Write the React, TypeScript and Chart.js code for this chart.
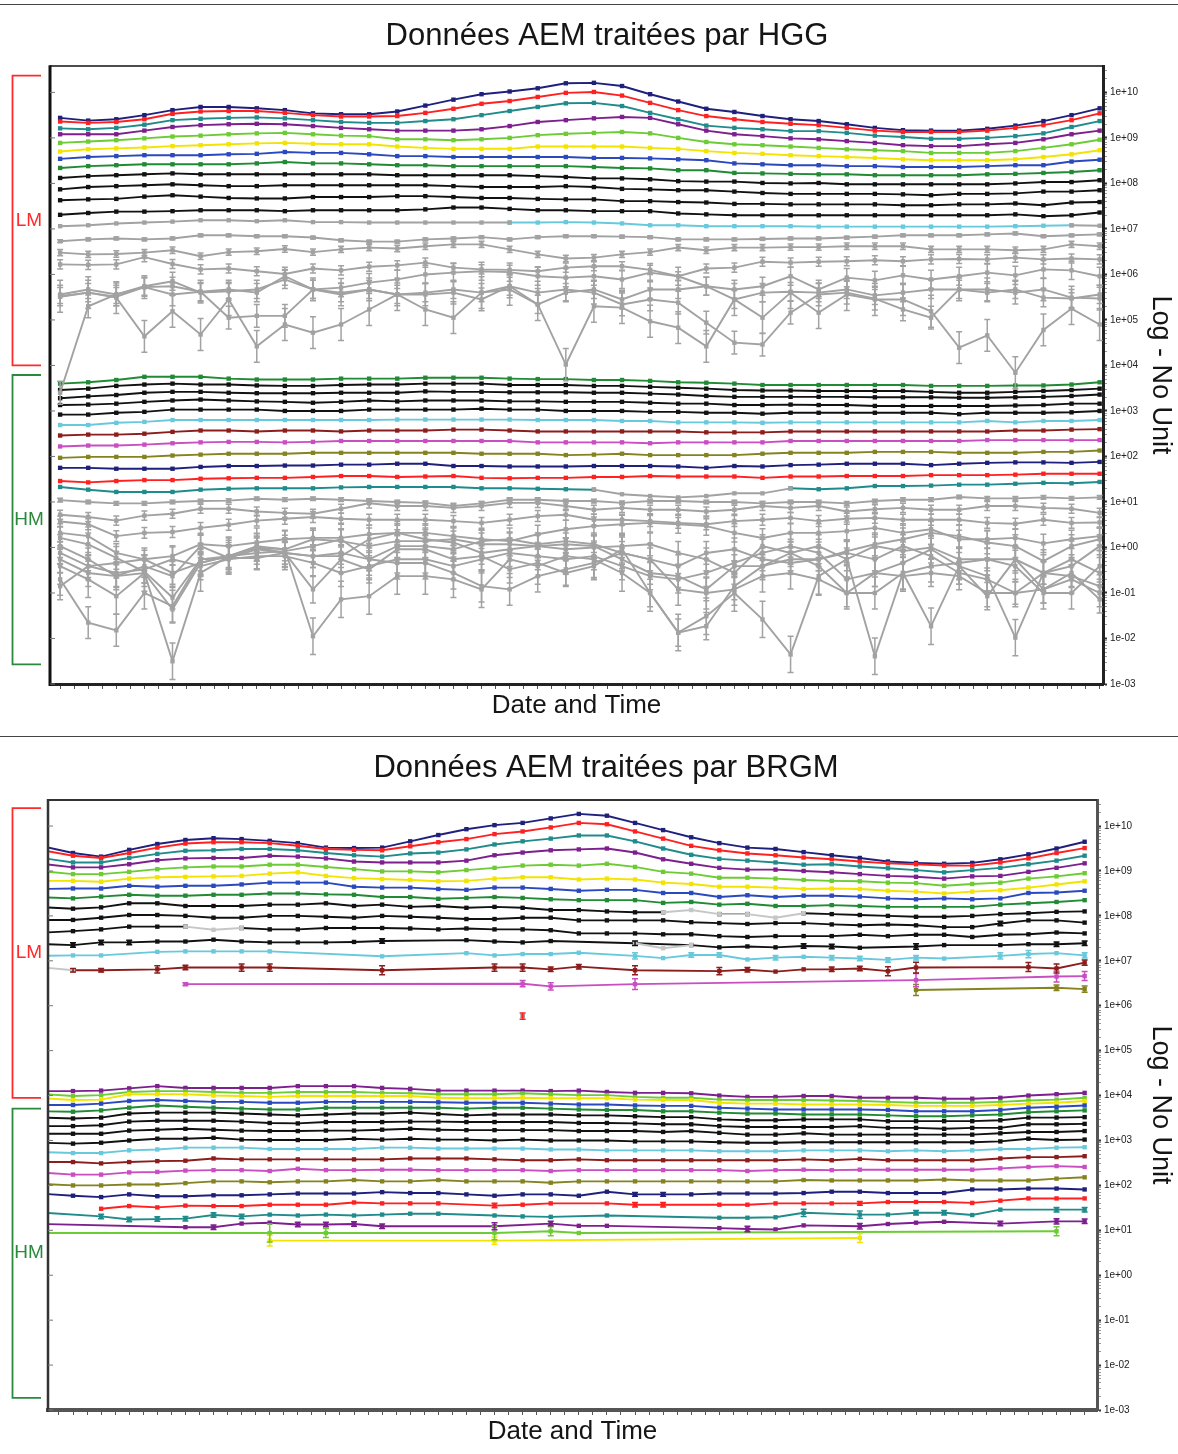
import React, { useEffect, useRef } from "react";
import { Chart, registerables } from "chart.js";
Chart.register(...registerables);

// ================= DATA (values are log10 of the plotted quantity) =================
// Y axis tick labels (decades) and minor-tick mantissas
const yDecades = [-3, -2, -1, 0, 1, 2, 3, 4, 5, 6, 7, 8, 9, 10];
const yMantissas = [1, 2, 3, 4, 5, 6, 7, 8, 9];

// ---------- Top chart: "HGG", samples 0..37 ----------
const hggLmNavy = [9.44,9.38,9.41,9.50,9.61,9.68,9.68,9.65,9.61,9.54,9.52,9.52,9.58,9.71,9.84,9.96,10.02,10.09,10.20,10.21,10.14,9.96,9.80,9.64,9.57,9.48,9.41,9.37,9.30,9.22,9.17,9.16,9.16,9.20,9.27,9.37,9.50,9.65];
const hggLmRed = [9.36,9.33,9.35,9.41,9.53,9.58,9.59,9.59,9.55,9.50,9.47,9.47,9.48,9.55,9.64,9.75,9.81,9.90,9.99,10.01,9.93,9.77,9.61,9.48,9.41,9.35,9.31,9.28,9.22,9.16,9.13,9.13,9.13,9.16,9.22,9.28,9.39,9.54];
const hggLmTeal = [9.21,9.19,9.22,9.29,9.39,9.42,9.44,9.45,9.43,9.39,9.35,9.33,9.33,9.37,9.41,9.50,9.59,9.68,9.76,9.77,9.70,9.55,9.41,9.27,9.22,9.19,9.15,9.15,9.11,9.05,9.02,8.98,8.98,9.00,9.04,9.10,9.24,9.37];
const hggLmPurple = [9.08,9.08,9.08,9.16,9.24,9.28,9.30,9.31,9.30,9.26,9.22,9.19,9.16,9.16,9.16,9.19,9.26,9.35,9.39,9.43,9.46,9.44,9.30,9.16,9.08,9.04,8.99,8.97,8.93,8.89,8.84,8.82,8.82,8.86,8.89,8.97,9.08,9.16];
const hggLmLime = [8.89,8.92,8.95,8.99,9.03,9.05,9.08,9.10,9.11,9.08,9.05,9.04,8.97,8.97,8.95,8.97,9.00,9.06,9.09,9.11,9.13,9.10,9.00,8.91,8.86,8.84,8.81,8.78,8.75,8.73,8.71,8.67,8.67,8.67,8.71,8.78,8.86,8.96];
const hggLmYellow = [8.70,8.75,8.77,8.79,8.82,8.84,8.86,8.88,8.89,8.87,8.86,8.86,8.81,8.78,8.76,8.76,8.76,8.81,8.81,8.81,8.81,8.78,8.76,8.71,8.67,8.65,8.62,8.60,8.58,8.56,8.53,8.51,8.51,8.51,8.53,8.58,8.64,8.73];
const hggLmBlue = [8.54,8.58,8.60,8.62,8.62,8.62,8.64,8.65,8.69,8.67,8.67,8.64,8.60,8.60,8.58,8.58,8.58,8.58,8.58,8.56,8.56,8.55,8.53,8.51,8.44,8.42,8.40,8.40,8.38,8.38,8.36,8.36,8.36,8.38,8.40,8.40,8.48,8.52];
const hggLmGreen = [8.34,8.38,8.40,8.42,8.42,8.42,8.42,8.44,8.47,8.44,8.44,8.42,8.40,8.40,8.38,8.38,8.38,8.38,8.38,8.36,8.34,8.33,8.29,8.29,8.23,8.22,8.21,8.20,8.20,8.18,8.18,8.18,8.18,8.20,8.21,8.23,8.25,8.29];
const hggLmBlack1 = [8.12,8.16,8.18,8.20,8.22,8.20,8.20,8.20,8.20,8.20,8.20,8.20,8.18,8.18,8.18,8.18,8.18,8.16,8.14,8.11,8.11,8.09,8.05,8.04,8.04,8.01,8.00,8.01,7.98,7.98,7.98,7.98,7.98,7.98,8.00,8.03,8.03,8.07];
const hggLmBlack2 = [7.87,7.92,7.94,7.96,7.98,7.96,7.94,7.94,7.96,7.96,7.96,7.96,7.96,7.96,7.94,7.92,7.92,7.92,7.94,7.92,7.88,7.87,7.85,7.85,7.82,7.79,7.77,7.77,7.77,7.77,7.76,7.74,7.77,7.77,7.78,7.82,7.82,7.85];
const hggLmBlack3 = [7.63,7.65,7.66,7.71,7.74,7.71,7.68,7.67,7.67,7.70,7.70,7.70,7.72,7.72,7.70,7.68,7.68,7.66,7.65,7.65,7.61,7.61,7.59,7.58,7.55,7.55,7.54,7.54,7.54,7.54,7.52,7.52,7.54,7.54,7.56,7.52,7.58,7.59];
const hggLmBlack4 = [7.31,7.35,7.38,7.38,7.39,7.41,7.41,7.41,7.39,7.41,7.41,7.41,7.41,7.43,7.47,7.47,7.44,7.41,7.41,7.39,7.39,7.39,7.34,7.32,7.30,7.30,7.30,7.30,7.30,7.30,7.30,7.30,7.30,7.30,7.32,7.28,7.30,7.36];
const hggLmCyan = [null,null,null,null,null,null,null,null,null,null,null,null,null,null,null,null,7.14,7.14,7.15,7.14,7.12,7.08,7.08,7.06,7.06,7.06,7.06,7.05,7.05,7.05,7.05,7.05,7.05,7.05,7.06,7.07,7.08,null];
const hggLmGray1 = [7.06,7.08,7.12,7.14,7.16,7.19,7.19,7.17,7.19,7.15,7.15,7.14,7.14,7.14,7.14,7.14,7.14,null,null,null,null,null,null,null,null,null,null,null,null,null,null,null,null,null,null,null,7.08,7.07];
const hggLmGray2 = [6.73,6.77,6.79,6.77,6.79,6.86,6.86,6.84,6.84,6.81,6.75,6.72,6.72,6.77,6.79,6.82,6.77,6.82,6.84,6.84,6.83,6.82,6.77,6.77,6.77,6.78,6.79,6.79,6.81,6.83,6.86,6.86,6.86,6.88,6.90,6.84,6.86,6.88];
const hggLmGray3 = [6.48,6.44,6.45,6.48,6.53,6.40,6.49,6.51,6.56,6.49,6.55,6.59,6.57,6.62,6.66,6.66,6.55,6.44,6.35,6.37,6.44,6.49,6.59,6.53,6.59,6.59,6.60,6.60,6.62,6.62,6.62,6.55,6.55,6.55,6.53,6.55,6.66,6.62];
const hggLmGray4 = [6.22,6.21,6.22,6.38,6.23,6.11,6.13,6.07,6.01,6.13,6.09,6.17,6.20,6.26,6.15,6.11,6.10,6.07,6.15,6.18,6.18,6.10,5.96,6.13,6.15,6.28,6.26,6.28,6.29,6.31,6.29,6.33,6.34,6.33,6.37,6.33,6.35,6.33];
const hggLmGray5 = [5.56,5.67,5.56,5.74,5.85,5.60,5.63,5.67,5.89,5.67,5.71,5.82,5.89,6.00,6.04,6.07,6.05,5.96,5.93,5.96,5.89,6.04,5.96,5.74,5.67,5.74,5.96,5.67,5.93,5.87,5.98,5.89,5.96,6.04,5.98,6.11,6.09,5.96];
const hggLmGray6 = [5.51,5.60,5.51,5.72,5.74,5.62,5.67,5.60,5.96,5.67,5.60,5.67,5.56,5.60,5.67,5.60,5.74,5.34,5.60,5.67,5.45,5.67,5.67,5.74,5.45,5.60,5.62,5.60,5.67,5.54,5.60,5.67,5.67,5.60,5.67,5.49,5.47,5.56];
const hggLmGray7 = [5.52,5.60,5.49,4.64,5.19,4.68,5.45,4.42,4.90,4.72,4.90,5.23,5.56,5.23,5.05,5.60,5.67,5.34,4.02,5.30,5.27,4.97,4.83,4.42,5.45,5.05,5.60,5.16,5.56,5.45,5.45,5.19,4.39,4.66,3.84,4.78,5.25,4.90];
const hggLmGray8 = [3.40,5.30,5.56,5.72,5.56,5.62,5.05,5.09,5.09,5.67,5.56,5.67,5.56,5.56,5.60,5.45,5.74,5.60,5.67,5.60,5.34,5.45,5.38,4.94,4.50,4.46,5.16,5.56,5.60,5.47,5.23,5.05,5.67,5.67,5.60,5.67,5.49,5.47];

const hggHmGreen = [3.60,3.63,3.68,3.75,3.75,3.75,3.71,3.69,3.69,3.69,3.71,3.71,3.71,3.73,3.73,3.73,3.71,3.70,3.70,3.68,3.68,3.66,3.63,3.62,3.60,3.57,3.57,3.57,3.57,3.57,3.57,3.55,3.55,3.55,3.56,3.56,3.58,3.63];
const hggHmBlackA = [3.46,3.49,3.55,3.58,3.60,3.58,3.58,3.56,3.55,3.55,3.57,3.58,3.58,3.60,3.60,3.60,3.57,3.57,3.57,3.55,3.55,3.53,3.51,3.49,3.46,3.45,3.45,3.44,3.44,3.44,3.44,3.42,3.40,3.40,3.42,3.44,3.46,3.49];
const hggHmBlackB = [3.28,3.32,3.35,3.40,3.42,3.42,3.40,3.39,3.39,3.39,3.40,3.40,3.40,3.43,3.42,3.42,3.41,3.41,3.41,3.40,3.40,3.38,3.36,3.33,3.31,3.31,3.31,3.31,3.31,3.30,3.30,3.30,3.29,3.29,3.30,3.31,3.33,3.36];
const hggHmBlackC = [3.13,3.14,3.16,3.20,3.23,3.25,3.23,3.21,3.20,3.18,3.20,3.23,3.21,3.23,3.23,3.23,3.21,3.21,3.20,3.20,3.20,3.18,3.16,3.16,3.13,3.13,3.14,3.13,3.13,3.11,3.11,3.11,3.11,3.11,3.12,3.13,3.16,3.16];
const hggHmBlackD = [2.92,2.92,2.96,2.98,3.03,3.03,3.03,3.03,3.00,3.00,3.00,3.03,3.03,3.03,3.03,3.05,3.03,3.03,3.00,3.00,3.00,2.98,2.98,2.96,2.96,2.94,2.96,2.96,2.96,2.96,2.96,2.96,2.93,2.96,2.96,2.96,2.97,3.00];
const hggHmCyan = [2.69,2.69,2.74,2.76,2.80,2.80,2.80,2.80,2.80,2.80,2.80,2.80,2.81,2.81,2.81,2.81,2.81,2.80,2.80,2.80,2.78,2.78,2.75,2.75,2.75,2.74,2.75,2.75,2.75,2.75,2.75,2.75,2.75,2.78,2.75,2.78,2.78,2.80];
const hggHmBrown = [2.46,2.48,2.48,2.50,2.54,2.57,2.57,2.55,2.57,2.57,2.55,2.57,2.57,2.57,2.59,2.59,2.57,2.55,2.55,2.55,2.55,2.55,2.55,2.53,2.53,2.53,2.55,2.55,2.55,2.55,2.55,2.55,2.55,2.55,2.57,2.57,2.59,2.60];
const hggHmMagenta = [2.22,2.24,2.24,2.26,2.29,2.31,2.32,2.32,2.31,2.32,2.34,2.34,2.34,2.34,2.34,2.34,2.34,2.31,2.31,2.31,2.31,2.29,2.31,2.31,2.31,2.31,2.34,2.34,2.34,2.34,2.34,2.34,2.34,2.36,2.36,2.36,2.36,2.36];
const hggHmOlive = [1.97,1.99,1.99,1.99,2.02,2.04,2.06,2.06,2.06,2.08,2.08,2.08,2.08,2.08,2.08,2.06,2.06,2.06,2.03,2.04,2.06,2.03,2.03,2.03,2.03,2.06,2.08,2.08,2.08,2.10,2.10,2.10,2.08,2.08,2.08,2.10,2.10,2.13];
const hggHmNavy = [1.75,1.75,1.73,1.73,1.73,1.77,1.79,1.79,1.80,1.80,1.82,1.82,1.84,1.84,1.79,1.79,1.78,1.78,1.78,1.79,1.79,1.79,1.78,1.75,1.79,1.78,1.81,1.82,1.84,1.84,1.84,1.81,1.84,1.86,1.87,1.87,1.86,1.88];
const hggHmRed = [1.46,1.43,1.46,1.48,1.48,1.51,1.52,1.53,1.53,1.55,1.57,1.57,1.55,1.56,1.57,1.53,1.52,1.53,1.53,1.55,1.55,1.57,1.56,1.56,1.56,1.53,1.56,1.56,1.57,1.57,1.57,1.59,1.59,1.59,1.60,1.62,1.62,1.62];
const hggHmTeal = [1.33,1.27,1.22,1.22,1.22,1.27,1.29,1.30,1.30,1.30,1.32,1.33,1.33,1.33,1.33,1.30,1.30,1.29,1.28,1.27,null,null,null,null,null,null,1.30,1.28,1.30,1.35,1.35,1.36,1.38,1.38,1.40,1.42,1.41,1.44];
const hggHmTealGap: [number, number][] = [[19,1.27],[20,1.17],[21,1.13],[22,1.10],[23,1.13],[24,1.19],[25,1.19],[26,1.30]];
const hggHmGray1 = [1.04,1.00,0.97,0.97,1.00,1.02,1.03,1.07,1.05,1.07,1.05,1.02,1.00,0.98,0.91,0.97,1.05,1.05,1.02,1.02,0.98,1.02,1.02,1.00,1.00,0.97,1.00,1.00,0.97,1.02,1.05,1.05,1.11,1.08,1.08,1.10,1.08,1.10];
const hggHmGray2 = [0.72,0.67,0.59,0.70,0.74,0.85,0.85,0.79,0.76,0.74,0.85,0.97,0.91,0.91,0.87,0.91,0.98,0.98,0.91,0.83,0.87,0.83,0.83,0.79,0.83,0.91,0.87,0.91,0.79,0.84,0.87,0.83,0.83,0.91,0.91,0.87,0.85,0.76];
const hggHmGray3 = [0.57,0.51,0.25,0.32,0.34,0.43,0.50,0.59,0.63,0.67,0.63,0.61,0.61,0.61,0.58,0.54,0.61,0.69,0.72,0.61,0.61,0.58,0.54,0.51,0.58,0.61,0.65,0.58,0.63,0.65,0.61,0.61,0.61,0.54,0.52,0.61,0.54,0.55];
const hggHmGray4 = [0.32,0.25,-0.12,-0.26,-0.19,0.07,0.03,0.11,0.18,0.21,0.21,0.29,0.32,0.32,0.25,0.18,0.14,0.29,0.40,0.47,0.51,0.54,0.51,0.47,0.32,0.21,0.32,0.32,0.36,0.43,0.32,0.40,0.18,0.18,0.21,0.09,0.18,0.25];
const hggHmGray5 = [0.21,0.07,-0.23,-0.53,-1.10,-0.26,-0.23,-0.04,-0.12,-0.19,-0.12,-0.26,0.03,0.03,-0.04,0.14,0.18,0.07,0.14,0.07,-0.12,-0.26,-0.41,-0.12,-0.04,-0.26,-0.34,-0.26,-0.08,0.07,0.18,0.32,0.25,0.11,0.03,-0.30,0.03,0.18];
const hggHmGray6 = [-0.12,-0.41,-0.34,-0.26,-0.56,-0.34,-0.19,0.00,-0.04,0.18,0.14,0.03,0.14,0.14,0.18,0.07,0.07,0.03,-0.04,0.00,0.03,0.07,-0.12,-0.26,-0.56,0.03,-0.12,0.03,-0.26,0.03,-0.08,0.00,-0.26,-0.26,-0.26,-0.56,-0.63,-0.85];
const hggHmGray7 = [-0.26,-0.56,-0.63,-0.56,-1.36,-0.34,-0.19,0.00,-0.12,-0.92,-0.26,-0.48,-0.04,-0.04,-0.26,-0.19,-0.48,-0.34,-0.56,-0.41,-0.04,-1.00,-1.87,-1.73,-0.85,-0.41,-0.12,-0.41,-1.00,-0.56,-0.34,-0.04,-0.41,-1.07,-0.26,-0.92,-0.70,-1.00];
const hggHmGray8 = [-0.41,-0.70,-1.07,-0.56,-2.50,-0.56,-0.19,0.03,-0.04,-1.95,-1.14,-1.07,-0.63,-0.63,-0.70,-0.92,-0.26,-0.41,-0.19,-0.26,-0.56,-1.00,-1.87,-1.51,-1.00,-1.58,-2.35,-0.63,-0.26,-2.39,-0.56,-1.73,-0.41,-0.63,-1.98,-0.56,-0.26,-0.56];
const hggHmGray9 = [-0.70,-1.65,-1.82,-1.00,-1.29,-0.26,-0.19,-0.12,-0.08,0.03,0.18,-0.26,-0.34,-0.34,-0.56,-0.85,-0.92,-0.63,-0.48,-0.34,-0.12,-0.26,-0.92,-1.00,-0.92,-0.63,-0.56,-0.70,-1.00,-1.00,-0.56,-0.41,-0.34,-0.26,-0.41,-1.00,-1.00,-0.41];
const hggHmGray10 = [0.03,-0.26,-0.63,-0.41,-0.63,0.03,-0.23,-0.23,-0.12,-0.19,-0.19,0.18,0.32,0.18,0.11,-0.12,-0.04,0.03,0.07,0.03,-0.26,-0.56,-0.63,-0.92,-0.41,-0.41,-0.26,-0.26,-0.12,-0.26,0.03,-0.19,-0.56,-0.70,-1.00,-0.56,-0.41,0.03];
const hggHmGray11 = [-0.85,-0.41,-0.56,-0.48,-0.26,-0.41,-0.26,-0.19,-0.19,-0.34,-0.56,-0.41,-0.26,-0.26,-0.41,-0.26,-0.12,-0.19,-0.26,-0.19,-0.41,-0.63,-0.70,-0.56,-0.34,-0.12,0.03,-0.12,-0.70,-0.56,-0.63,-0.56,-0.63,-1.00,-1.00,-0.92,-0.56,-1.14];

// ---------- Bottom chart: "BRGM", samples -1..36 (first = value at left edge) ----------
const brgmLmNavy = [9.54,9.40,9.32,9.47,9.60,9.69,9.73,9.71,9.67,9.62,9.52,9.51,9.52,9.66,9.80,9.93,10.02,10.07,10.17,10.27,10.23,10.07,9.91,9.75,9.62,9.52,9.49,9.42,9.35,9.29,9.21,9.18,9.16,9.18,9.26,9.37,9.50,9.65];
const brgmLmRed = [9.45,9.34,9.29,9.40,9.52,9.61,9.64,9.64,9.62,9.56,9.49,9.47,9.46,9.55,9.64,9.71,9.82,9.88,9.97,10.07,10.04,9.88,9.72,9.56,9.46,9.39,9.35,9.30,9.26,9.21,9.17,9.15,9.12,9.12,9.19,9.28,9.40,9.51];
const brgmLmTeal = [9.28,9.19,9.19,9.29,9.38,9.45,9.46,9.49,9.49,9.46,9.40,9.35,9.32,9.39,9.41,9.48,9.59,9.66,9.72,9.79,9.79,9.66,9.50,9.36,9.27,9.23,9.19,9.14,9.15,9.10,9.06,9.02,8.97,9.02,9.07,9.15,9.23,9.34];
const brgmLmPurple = [9.15,9.08,9.08,9.15,9.24,9.28,9.29,9.29,9.34,9.32,9.28,9.21,9.19,9.19,9.19,9.23,9.35,9.41,9.46,9.48,9.50,9.41,9.26,9.16,9.07,9.03,9.03,9.00,8.97,8.93,8.89,8.87,8.83,8.88,8.89,8.98,9.07,9.17];
const brgmLmLime = [8.99,8.93,8.93,8.98,9.04,9.08,9.10,9.10,9.14,9.14,9.09,9.04,8.99,8.99,8.97,9.02,9.07,9.12,9.14,9.12,9.16,9.09,8.98,8.94,8.85,8.85,8.83,8.80,8.78,8.77,8.74,8.73,8.67,8.71,8.74,8.83,8.88,8.95];
const brgmLmYellow = [8.78,8.78,8.76,8.83,8.86,8.87,8.88,8.89,8.94,8.97,8.89,8.84,8.82,8.80,8.77,8.78,8.83,8.86,8.86,8.81,8.83,8.81,8.74,8.71,8.65,8.65,8.63,8.60,8.61,8.60,8.56,8.54,8.50,8.54,8.57,8.63,8.70,8.77];
const brgmLmBlue = [8.60,8.61,8.61,8.67,8.65,8.67,8.67,8.70,8.74,8.74,8.74,8.65,8.63,8.63,8.60,8.58,8.63,8.63,8.60,8.56,8.58,8.58,8.51,8.51,8.42,8.46,8.42,8.45,8.45,8.43,8.39,8.37,8.39,8.37,8.39,8.51,8.52,8.56];
const brgmLmGreen = [8.41,8.39,8.43,8.47,8.45,8.45,8.47,8.47,8.50,8.50,8.48,8.47,8.42,8.42,8.38,8.40,8.42,8.40,8.37,8.35,8.35,8.35,8.29,8.31,8.25,8.27,8.22,8.22,8.24,8.22,8.20,8.20,8.20,8.20,8.25,8.28,8.31,8.35];
const brgmLmBlack1 = [8.19,8.16,8.19,8.28,8.28,8.22,8.22,8.22,8.25,8.25,8.28,8.22,8.25,8.20,8.22,8.18,8.20,8.18,8.13,8.13,8.10,8.08,8.08,null,8.04,8.04,null,8.06,8.04,8.02,8.00,7.98,7.98,8.00,8.04,8.06,8.09,8.10];
const brgmLmBlack2 = [7.91,7.91,7.96,8.02,8.02,8.00,7.96,7.96,8.00,8.00,7.98,7.96,8.00,7.98,7.96,7.93,7.93,7.96,7.96,7.90,7.90,7.90,7.90,7.86,7.84,7.82,7.84,7.84,7.81,7.79,7.81,7.79,7.75,7.75,7.83,7.90,7.90,7.85];
const brgmLmBlack3 = [7.63,7.66,7.70,7.76,7.76,7.76,null,7.73,7.70,7.70,7.73,7.73,7.73,7.72,7.70,7.72,7.70,7.70,7.68,7.61,7.61,7.61,7.59,7.59,7.55,7.53,7.55,7.55,7.55,7.58,7.55,7.58,7.58,7.53,7.58,7.59,7.63,7.61];
const brgmLmBlack4 = [7.37,7.35,7.41,7.41,7.43,7.43,7.47,7.43,7.41,7.41,7.41,7.42,7.44,null,null,7.46,7.43,7.41,7.44,null,null,7.39,null,7.35,7.30,7.32,7.30,7.33,7.32,7.29,null,7.32,7.35,null,7.35,7.37,7.37,7.39];
const brgmLmCyan = [7.11,7.12,7.12,null,7.20,7.21,7.21,7.21,7.21,null,null,null,7.10,null,null,7.17,7.12,7.15,7.15,7.18,null,7.11,7.06,7.13,7.13,7.03,7.07,7.09,7.07,7.05,7.02,7.07,7.05,null,7.11,7.15,7.17,7.12];
const brgmLmBrown = [null,6.79,6.79,null,6.81,6.85,null,6.85,6.85,null,null,null,6.79,null,null,null,6.85,6.85,6.81,6.87,null,6.79,null,null,6.77,6.80,6.76,6.81,6.81,6.83,6.77,6.85,null,null,null,6.86,6.83,6.96];
const brgmLmBlack2Err: [number, number][] = [[33,0.05]];
const brgmLmBlack4Err: [number, number][] = [[0,0.05],[1,0.05],[2,0.05],[11,0.05],[20,0.05],[26,0.05],[27,0.05],[30,0.06],[35,0.05],[36,0.05]];
const brgmLmCyanErr: [number, number][] = [[20,0.07],[22,0.05],[23,0.05],[25,0.05],[27,0.05],[28,0.05],[29,0.05],[30,0.05],[33,0.07],[34,0.08],[36,0.06]];
const brgmLmBrownErr: [number, number][] = [[0,0.04],[1,0.04],[3,0.08],[4,0.05],[6,0.08],[7,0.08],[11,0.1],[15,0.08],[16,0.08],[17,0.05],[18,0.05],[20,0.1],[23,0.08],[24,0.05],[27,0.05],[28,0.05],[29,0.1],[30,0.12],[34,0.1],[35,0.1],[36,0.06]];
// sparse series: [sample, log10 value, error half-width]
const brgmLmMagenta: [number, number, number][] = [[4,6.48,0.03],[16,6.49,0.07],[17,6.43,0.08],[20,6.48,0.12],[30,6.57,0.15],[35,6.65,0.12],[36,6.66,0.1]];
const brgmLmOlive: [number, number, number][] = [[30,6.35,0.12],[35,6.40,0.06],[36,6.37,0.07]];
const brgmLmSingle: [number, number, number][] = [[16,5.77,0.07]];
const brgmLmGrayA: [number, number][] = [[21,8.08],[22,8.13],[23,8.04],[24,8.04],[25,7.96],[26,8.06]];
const brgmLmGrayB: [number, number][] = [[4,7.76],[5,7.69],[6,7.73]];
const brgmLmGrayC: [number, number][] = [[20,7.39],[21,7.28],[22,7.35]];
const brgmLmGrayD: [number, number][] = [[-1,6.85],[0,6.79]];

const brgmHmPurple = [4.10,4.10,4.11,4.16,4.21,4.17,4.17,4.17,4.17,4.21,4.21,4.21,4.17,4.15,4.11,4.11,4.11,4.11,4.10,4.11,4.08,4.06,4.06,4.05,4.00,3.97,3.97,3.99,3.99,3.95,3.95,3.95,3.93,3.93,3.95,4.00,4.03,4.06];
const brgmHmLime = [4.03,3.99,4.01,4.08,4.10,4.10,4.08,4.06,4.06,4.08,4.08,4.08,4.06,4.05,4.03,4.03,4.03,4.05,4.03,4.01,4.01,3.97,3.95,3.95,3.91,3.90,3.90,3.90,3.89,3.88,3.86,3.84,3.84,3.84,3.86,3.89,3.91,3.95];
const brgmHmYellow = [3.94,3.90,3.91,4.03,4.03,4.03,4.00,3.99,3.97,3.99,3.99,3.99,3.99,3.99,3.95,3.94,3.94,3.95,3.94,3.94,3.94,3.91,3.90,3.90,3.84,3.82,3.82,3.80,3.80,3.80,3.79,3.77,3.77,3.77,3.79,3.82,3.84,3.88];
const brgmHmBlue = [3.79,3.79,3.82,3.88,3.90,3.88,3.86,3.86,3.84,3.84,3.86,3.86,3.86,3.86,3.85,3.84,3.84,3.84,3.82,3.80,3.80,3.78,3.77,3.77,3.73,3.71,3.69,3.69,3.69,3.69,3.68,3.65,3.65,3.65,3.68,3.73,3.75,3.78];
const brgmHmGreen = [3.65,3.64,3.67,3.73,3.78,3.75,3.73,3.71,3.69,3.69,3.73,3.73,3.73,3.73,3.73,3.71,3.73,3.73,3.71,3.69,3.68,3.68,3.65,3.65,3.62,3.60,3.60,3.58,3.58,3.58,3.56,3.54,3.54,3.56,3.58,3.63,3.65,3.67];
const brgmHmBlackA = [3.51,3.49,3.51,3.60,3.62,3.62,3.62,3.60,3.58,3.56,3.58,3.60,3.60,3.62,3.59,3.56,3.58,3.58,3.58,3.56,3.56,3.54,3.52,3.52,3.47,3.45,3.45,3.47,3.47,3.47,3.43,3.43,3.43,3.43,3.45,3.51,3.51,3.52];
const brgmHmBlackB = [3.32,3.32,3.34,3.42,3.44,3.44,3.44,3.42,3.39,3.38,3.41,3.41,3.41,3.42,3.42,3.41,3.41,3.41,3.41,3.39,3.39,3.38,3.36,3.36,3.32,3.30,3.30,3.30,3.30,3.32,3.28,3.28,3.26,3.28,3.28,3.36,3.36,3.37];
const brgmHmBlackC = [3.15,3.15,3.15,3.22,3.24,3.26,3.24,3.22,3.21,3.21,3.22,3.22,3.24,3.26,3.24,3.23,3.23,3.23,3.23,3.21,3.21,3.21,3.19,3.21,3.17,3.13,3.13,3.16,3.13,3.13,3.13,3.13,3.13,3.13,3.16,3.19,3.19,3.21];
const brgmHmBlackD = [2.95,2.93,2.95,3.00,3.04,3.04,3.06,3.02,3.01,3.01,3.01,3.04,3.02,3.04,3.02,3.02,3.00,3.02,3.00,3.00,3.00,2.98,2.98,2.98,2.96,2.95,2.95,2.96,2.96,2.96,2.96,2.96,2.96,2.96,2.98,3.04,3.01,3.02];
const brgmHmCyan = [2.74,2.72,2.72,2.78,2.80,2.84,2.84,2.84,2.81,2.81,2.81,2.81,2.84,2.84,2.82,2.82,2.82,2.82,2.80,2.80,2.78,2.78,2.78,2.78,2.76,2.76,2.76,2.78,2.78,2.78,2.76,2.78,2.76,2.78,2.81,2.81,2.84,2.85];
const brgmHmBrown = [2.52,2.52,2.49,2.52,2.54,2.55,2.60,2.58,2.58,2.58,2.58,2.58,2.58,2.60,2.60,2.60,2.58,2.56,2.56,2.58,2.56,2.56,2.56,2.56,2.56,2.56,2.56,2.58,2.56,2.59,2.56,2.56,2.56,2.56,2.60,2.63,2.63,2.65];
const brgmHmMagenta = [2.28,2.24,2.24,2.29,2.30,2.33,2.34,2.34,2.32,2.37,2.34,2.34,2.35,2.35,2.34,2.34,2.34,2.34,2.32,2.34,2.34,2.34,2.34,2.34,2.34,2.32,2.34,2.35,2.34,2.35,2.35,2.35,2.35,2.35,2.38,2.41,2.43,2.41];
const brgmHmOlive = [2.03,2.00,2.00,2.02,2.02,2.05,2.09,2.09,2.07,2.09,2.09,2.12,2.09,2.09,2.12,2.09,2.09,2.09,2.06,2.09,2.09,2.09,2.09,2.09,2.09,2.09,2.09,2.12,2.11,2.11,2.11,2.11,2.13,2.11,2.11,2.11,2.15,2.18];
const brgmHmNavy = [1.81,1.77,1.74,1.80,1.76,1.76,1.78,1.78,1.80,1.82,1.82,1.82,1.85,1.83,1.83,1.80,1.77,1.80,1.80,1.77,1.86,1.80,1.80,1.80,1.82,1.82,1.82,1.83,1.86,1.86,1.83,1.83,1.83,1.91,1.91,1.93,1.93,1.91];
const brgmHmRed = [null,null,1.48,1.54,1.51,1.55,1.54,1.54,1.57,1.57,1.57,1.62,1.60,1.60,1.60,null,1.55,1.57,1.60,null,1.60,1.57,1.57,null,1.57,1.57,1.60,1.60,1.60,1.60,1.63,1.63,1.63,1.61,1.66,1.71,1.71,1.71];
const brgmHmTeal = [1.39,null,1.31,1.24,1.25,1.26,1.34,1.31,1.35,1.33,1.35,1.33,1.35,1.37,1.37,null,1.33,1.31,1.30,null,1.33,null,null,null,1.28,1.28,1.29,1.39,null,1.35,1.35,1.39,1.39,1.34,1.46,null,1.46,1.46];
const brgmHmPurple2 = [1.14,null,null,null,null,1.07,1.07,1.15,1.17,1.13,1.13,1.14,1.09,null,null,null,1.09,null,1.15,1.10,1.10,null,null,null,1.05,1.03,1.02,1.11,null,1.09,1.14,1.17,1.19,null,1.15,null,1.20,1.20];
const brgmHmNavyErr: [number, number][] = [[20,0.04],[21,0.04]];
const brgmHmRedErr: [number, number][] = [[15,0.05],[20,0.05],[21,0.05],[28,0.04]];
const brgmHmTealErr: [number, number][] = [[1,0.05],[2,0.05],[3,0.05],[4,0.05],[5,0.05],[6,0.05],[26,0.08],[28,0.08],[30,0.05],[31,0.05],[35,0.05],[36,0.05]];
const brgmHmPurple2Err: [number, number][] = [[5,0.05],[8,0.05],[9,0.05],[10,0.05],[11,0.05],[15,0.08],[17,0.05],[24,0.06],[28,0.06],[33,0.05],[35,0.06],[36,0.05]];
const brgmHmLime2: [number, number, number][] = [[-1,0.94,0],[7,0.94,0.2],[9,0.94,0.1],[15,0.94,0.15],[17,0.98,0.1],[18,0.94,0],[35,0.98,0.1]];
const brgmHmYellow2: [number, number, number][] = [[7,0.77,0.12],[15,0.77,0.08],[28,0.83,0.1]];

// ================= STYLE =================
const FONT = "'Liberation Sans', Arial, sans-serif";
const C = {
  navy: "#1f1f7c", red: "#ff2121", teal: "#208b8b", purple: "#7d1f8e", lime: "#6dcc35",
  yellow: "#f2e400", blue: "#2b49bf", green: "#208a34", black: "#111111", cyan: "#69c9dc",
  brown: "#8c1d1d", magenta: "#c94ec1", olive: "#848320", gray: "#a2a2a2", lightgray: "#c6c6c6",
};

type Pt = [number, number, number?];
interface SeriesDef {
  vals?: (number | null)[];
  pts?: Pt[];
  start?: number;
  color: string;
  err?: number | [number, number][];
  errColor?: string;
  span?: boolean;
  radius?: number;
}

function buildDatasets(defs: SeriesDef[]) {
  return defs.map((d) => {
    const start = d.start ?? 0;
    let rows: { x: number; y: number | null; e: number }[] = [];
    if (d.vals) rows = d.vals.map((v, k) => ({ x: k + start, y: v == null ? null : Math.pow(10, v), e: 0 }));
    else if (d.pts) rows = d.pts.map(([i, v, e]) => ({ x: i, y: Math.pow(10, v), e: e ?? 0 }));
    if (typeof d.err === "number") {
      const e = d.err;
      rows.forEach((r) => { if (r.y != null) r.e = e; });
    } else if (Array.isArray(d.err)) {
      d.err.forEach(([i, e]) => { const r = rows.find((q) => q.x === i); if (r) r.e = e; });
    }
    return {
      xAxisID: "x",
      yAxisID: "y",
      data: rows.map((r) => ({ x: r.x, y: r.y })),
      errs: rows.map((r) => r.e),
      errColor: d.errColor ?? d.color,
      borderColor: d.color,
      backgroundColor: d.color,
      borderWidth: 1.9,
      pointStyle: "rect",
      pointRadius: d.radius ?? 3.1,
      pointBorderWidth: 0,
      pointHoverRadius: 3,
      spanGaps: d.span ?? false,
      tension: 0,
      fill: false,
    };
  });
}

const isDecade = (v: number | undefined) => {
  if (v == null || v <= 0) return false;
  const L = Math.log10(v);
  return Math.abs(L - Math.round(L)) < 1e-6;
};
const decadeLabel = (e: number) => (e >= 0 ? "1e+" : "1e-") + String(Math.abs(e)).padStart(2, "0");

const Y_MAX_LOG = 10.58;
const yTickValues: number[] = [];
yDecades.forEach((e) => yMantissas.forEach((m) => {
  const v = m * Math.pow(10, e);
  if (Math.log10(v) <= Y_MAX_LOG) yTickValues.push(v);
}));

const errorBarPlugin = {
  id: "errorBars",
  afterDatasetsDraw(chart: any) {
    const { ctx, chartArea: a, scales } = chart;
    const xs = scales.x, ys = scales.y;
    ctx.save();
    ctx.beginPath();
    ctx.rect(a.left, a.top, a.right - a.left, a.bottom - a.top);
    ctx.clip();
    chart.data.datasets.forEach((ds: any) => {
      if (!ds.errs) return;
      ctx.strokeStyle = ds.errColor;
      ctx.lineWidth = 1.5;
      ds.data.forEach((p: any, k: number) => {
        const e = ds.errs[k];
        if (!e || p.y == null) return;
        const x = xs.getPixelForValue(p.x);
        const f = Math.pow(10, e);
        const y1 = ys.getPixelForValue(p.y * f);
        const y2 = ys.getPixelForValue(p.y / f);
        ctx.beginPath();
        ctx.moveTo(x, y1); ctx.lineTo(x, y2);
        ctx.moveTo(x - 3, y1); ctx.lineTo(x + 3, y1);
        ctx.moveTo(x - 3, y2); ctx.lineTo(x + 3, y2);
        ctx.stroke();
      });
    });
    ctx.restore();
  },
};

function makeFramePlugin(color: string, topW: number, leftW: number) {
  return {
    id: "frame",
    afterDraw(chart: any) {
      const { ctx, chartArea: a } = chart;
      const ys = chart.scales.y;
      ctx.save();
      ctx.strokeStyle = color;
      ctx.lineWidth = topW;
      ctx.beginPath(); ctx.moveTo(a.left, a.top); ctx.lineTo(a.right, a.top); ctx.stroke();
      ctx.lineWidth = leftW;
      ctx.beginPath(); ctx.moveTo(a.left, a.top - topW / 2); ctx.lineTo(a.left, a.bottom + 2); ctx.stroke();
      ctx.lineWidth = 1;
      ctx.strokeStyle = "#777";
      yDecades.forEach((e) => {
        const y = ys.getPixelForValue(Math.pow(10, e));
        ctx.beginPath(); ctx.moveTo(a.left, y); ctx.lineTo(a.left + 5, y); ctx.stroke();
      });
      ctx.restore();
    },
  };
}

interface Bracket { from: number; to: number; color: string; label: string }
function makeBracketPlugin(items: Bracket[]) {
  return {
    id: "brackets",
    afterDraw(chart: any) {
      const { ctx } = chart;
      const ys = chart.scales.y;
      items.forEach((b) => {
        const y1 = ys.getPixelForValue(Math.pow(10, b.from));
        const y2 = ys.getPixelForValue(Math.pow(10, b.to));
        ctx.save();
        ctx.strokeStyle = b.color;
        ctx.lineWidth = 1.8;
        ctx.beginPath();
        ctx.moveTo(41, y1); ctx.lineTo(12.5, y1); ctx.lineTo(12.5, y2); ctx.lineTo(41, y2);
        ctx.stroke();
        ctx.fillStyle = b.color;
        ctx.font = `19px ${FONT}`;
        ctx.textAlign = "center";
        ctx.textBaseline = "middle";
        ctx.fillText(b.label, 29, (y1 + y2) / 2);
        ctx.restore();
      });
    },
  };
}

interface ChartSpec {
  title: string; titlePad: [number, number]; padLeft: number; spacer: number; yWidth: number; xHeight: number;
  xMin: number; xMax: number; xTitlePad: number; yTitlePad: number;
  axisColor: string; xBorder: number; yBorder: number; frameColor: string; frameTop: number; frameLeft: number;
  defs: SeriesDef[]; brackets: Bracket[];
}

function makeConfig(s: ChartSpec): any {
  return {
    type: "line",
    data: { datasets: buildDatasets(s.defs) },
    options: {
      responsive: false,
      animation: false,
      events: [],
      layout: { padding: { left: s.padLeft, right: 0, top: 0, bottom: 0 } },
      plugins: {
        legend: { display: false },
        tooltip: { enabled: false },
        title: {
          display: true, text: s.title, color: "#151515",
          font: { family: FONT, size: 31, weight: "normal" },
          padding: { top: s.titlePad[0], bottom: s.titlePad[1] },
        },
      },
      scales: {
        x: {
          type: "linear", min: s.xMin, max: s.xMax,
          afterFit: (sc: any) => { sc.height = s.xHeight; },
          afterBuildTicks: (sc: any) => {
            const t: any[] = [];
            for (let v = Math.ceil(s.xMin * 2) / 2; v <= s.xMax; v += 0.5) t.push({ value: v });
            sc.ticks = t;
          },
          ticks: { autoSkip: false, maxRotation: 0, callback: () => "", font: { size: 2 } },
          grid: { drawOnChartArea: false, drawTicks: true, tickLength: 5, tickColor: "#555", tickWidth: 1 },
          border: { display: true, color: s.axisColor, width: s.xBorder },
          title: {
            display: true, text: "Date and Time", color: "#151515",
            font: { family: FONT, size: 26 }, padding: { top: 0, bottom: s.xTitlePad },
          },
        },
        spacer: {
          type: "linear", position: "left", axis: "y",
          afterFit: (sc: any) => { sc.width = s.spacer; },
          ticks: { display: false },
          grid: { display: false, drawTicks: false },
          border: { display: false },
        },
        y: {
          type: "logarithmic", position: "right", min: 1e-3, max: Math.pow(10, Y_MAX_LOG),
          afterFit: (sc: any) => { sc.width = s.yWidth; },
          afterBuildTicks: (sc: any) => { sc.ticks = yTickValues.map((v) => ({ value: v })); },
          ticks: {
            autoSkip: false, padding: 3, color: "#222",
            font: { family: FONT, size: 10 },
            callback: (v: any) => (isDecade(Number(v)) ? decadeLabel(Math.round(Math.log10(Number(v)))) : ""),
          },
          grid: {
            drawOnChartArea: false, drawTicks: true, tickLength: 4,
            tickColor: (ctx: any) => (isDecade(ctx.tick?.value) ? "#333" : "#999"),
            tickWidth: (ctx: any) => (isDecade(ctx.tick?.value) ? 2 : 1),
          },
          border: { display: true, color: s.axisColor, width: s.yBorder },
          title: {
            display: true, text: "Log - No Unit", color: "#151515",
            font: { family: FONT, size: 27 }, padding: { top: s.yTitlePad, bottom: 0 },
          },
        },
      },
    },
    plugins: [errorBarPlugin, makeFramePlugin(s.frameColor, s.frameTop, s.frameLeft), makeBracketPlugin(s.brackets)],
  };
}

const hggDefs: SeriesDef[] = [
  { vals: hggHmGray11, color: C.gray, err: 0.3 },
  { vals: hggHmGray10, color: C.gray, err: 0.25 },
  { vals: hggHmGray9, color: C.gray, err: 0.35 },
  { vals: hggHmGray8, color: C.gray, err: 0.4 },
  { vals: hggHmGray7, color: C.gray, err: 0.3 },
  { vals: hggHmGray6, color: C.gray, err: 0.25 },
  { vals: hggHmGray5, color: C.gray, err: 0.25 },
  { vals: hggHmGray4, color: C.gray, err: 0.2 },
  { vals: hggHmGray3, color: C.gray, err: 0.12 },
  { vals: hggHmGray2, color: C.gray, err: 0.1 },
  { vals: hggHmGray1, color: C.gray, err: 0.04 },
  { pts: hggHmTealGap, color: C.gray },
  { vals: hggLmGray8, color: C.gray, err: 0.25 },
  { vals: hggLmGray7, color: C.gray, err: 0.35 },
  { vals: hggLmGray6, color: C.gray, err: 0.2 },
  { vals: hggLmGray5, color: C.gray, err: 0.2 },
  { vals: hggLmGray4, color: C.gray, err: 0.1 },
  { vals: hggLmGray3, color: C.gray, err: 0.07 },
  { vals: hggLmGray2, color: C.gray, err: 0.03 },
  { vals: hggLmGray1, color: C.gray },
  { vals: hggHmTeal, color: C.teal },
  { vals: hggHmRed, color: C.red },
  { vals: hggHmNavy, color: C.navy },
  { vals: hggHmOlive, color: C.olive },
  { vals: hggHmMagenta, color: C.magenta },
  { vals: hggHmBrown, color: C.brown },
  { vals: hggHmCyan, color: C.cyan },
  { vals: hggHmBlackD, color: C.black },
  { vals: hggHmBlackC, color: C.black },
  { vals: hggHmBlackB, color: C.black },
  { vals: hggHmBlackA, color: C.black },
  { vals: hggHmGreen, color: C.green },
  { vals: hggLmCyan, color: C.cyan },
  { vals: hggLmBlack4, color: C.black },
  { vals: hggLmBlack3, color: C.black },
  { vals: hggLmBlack2, color: C.black },
  { vals: hggLmBlack1, color: C.black },
  { vals: hggLmGreen, color: C.green },
  { vals: hggLmBlue, color: C.blue },
  { vals: hggLmYellow, color: C.yellow },
  { vals: hggLmLime, color: C.lime },
  { vals: hggLmPurple, color: C.purple },
  { vals: hggLmTeal, color: C.teal },
  { vals: hggLmRed, color: C.red },
  { vals: hggLmNavy, color: C.navy },
];

const B = -1; // first stored sample of the BRGM arrays
const brgmDefs: SeriesDef[] = [
  { pts: brgmLmGrayA, color: C.lightgray },
  { pts: brgmLmGrayB, color: C.lightgray },
  { pts: brgmLmGrayC, color: C.lightgray },
  { pts: brgmLmGrayD, color: C.lightgray },
  { pts: brgmHmYellow2, color: C.yellow },
  { pts: brgmHmLime2, color: C.lime },
  { vals: brgmHmPurple2, start: B, color: C.purple, span: true, err: brgmHmPurple2Err },
  { vals: brgmHmTeal, start: B, color: C.teal, span: true, err: brgmHmTealErr },
  { vals: brgmHmRed, start: B, color: C.red, span: true, err: brgmHmRedErr },
  { vals: brgmHmNavy, start: B, color: C.navy, err: brgmHmNavyErr },
  { vals: brgmHmOlive, start: B, color: C.olive },
  { vals: brgmHmMagenta, start: B, color: C.magenta },
  { vals: brgmHmBrown, start: B, color: C.brown },
  { vals: brgmHmCyan, start: B, color: C.cyan },
  { vals: brgmHmBlackD, start: B, color: C.black },
  { vals: brgmHmBlackC, start: B, color: C.black },
  { vals: brgmHmBlackB, start: B, color: C.black },
  { vals: brgmHmBlackA, start: B, color: C.black },
  { vals: brgmHmGreen, start: B, color: C.green },
  { vals: brgmHmBlue, start: B, color: C.blue },
  { vals: brgmHmYellow, start: B, color: C.yellow },
  { vals: brgmHmLime, start: B, color: C.lime },
  { vals: brgmHmPurple, start: B, color: C.purple },
  { pts: brgmLmSingle, color: "#888888", errColor: C.red },
  { pts: brgmLmOlive, color: C.olive },
  { pts: brgmLmMagenta, color: C.magenta },
  { vals: brgmLmBrown, start: B, color: C.brown, span: true, err: brgmLmBrownErr },
  { vals: brgmLmCyan, start: B, color: C.cyan, span: true, err: brgmLmCyanErr },
  { vals: brgmLmBlack4, start: B, color: C.black, span: true, err: brgmLmBlack4Err },
  { vals: brgmLmBlack3, start: B, color: C.black },
  { vals: brgmLmBlack2, start: B, color: C.black, err: brgmLmBlack2Err },
  { vals: brgmLmBlack1, start: B, color: C.black },
  { vals: brgmLmGreen, start: B, color: C.green },
  { vals: brgmLmBlue, start: B, color: C.blue },
  { vals: brgmLmYellow, start: B, color: C.yellow },
  { vals: brgmLmLime, start: B, color: C.lime },
  { vals: brgmLmPurple, start: B, color: C.purple },
  { vals: brgmLmTeal, start: B, color: C.teal },
  { vals: brgmLmRed, start: B, color: C.red },
  { vals: brgmLmNavy, start: B, color: C.navy },
];

const topSpec: ChartSpec = {
  title: "Données AEM traitées par HGG", titlePad: [17.4, 11.4], padLeft: 36, spacer: 14, yWidth: 75, xHeight: 52,
  xMin: -0.36, xMax: 37.12, xTitlePad: 14.4, yTitlePad: 1.8,
  axisColor: "#222", xBorder: 3, yBorder: 3, frameColor: "#111", frameTop: 1.5, frameLeft: 3,
  defs: hggDefs,
  brackets: [
    { from: 10.37, to: 4.0, color: "#ff2a2a", label: "LM" },
    { from: 3.79, to: -2.57, color: "#2a8a3c", label: "HM" },
  ],
};

const bottomSpec: ChartSpec = {
  title: "Données AEM traitées par BRGM", titlePad: [13.4, 13.4], padLeft: 34, spacer: 14, yWidth: 81, xHeight: 44,
  xMin: -0.89, xMax: 36.44, xTitlePad: 6.4, yTitlePad: 1.8,
  axisColor: "#555", xBorder: 4, yBorder: 3, frameColor: "#333", frameTop: 2, frameLeft: 2.5,
  defs: brgmDefs,
  brackets: [
    { from: 10.40, to: 3.95, color: "#ff2a2a", label: "LM" },
    { from: 3.71, to: -2.73, color: "#2a8a3c", label: "HM" },
  ],
};

export default function App() {
  const topRef = useRef<HTMLCanvasElement>(null);
  const botRef = useRef<HTMLCanvasElement>(null);
  useEffect(() => {
    document.body.style.margin = "0";
    const c1 = new Chart(topRef.current as HTMLCanvasElement, makeConfig(topSpec));
    const c2 = new Chart(botRef.current as HTMLCanvasElement, makeConfig(bottomSpec));
    return () => { c1.destroy(); c2.destroy(); };
  }, []);
  return (
    <div style={{ position: "relative", width: 1178, height: 1454, background: "#fff", overflow: "hidden" }}>
      <div style={{ position: "absolute", left: 0, top: 4, width: 1178, height: 1, background: "#444" }} />
      <div style={{ position: "absolute", left: 0, top: 736, width: 1178, height: 1, background: "#444" }} />
      <canvas ref={topRef} width={1178} height={736} style={{ position: "absolute", left: 0, top: 0 }} />
      <canvas ref={botRef} width={1178} height={718} style={{ position: "absolute", left: 0, top: 736 }} />
    </div>
  );
}
